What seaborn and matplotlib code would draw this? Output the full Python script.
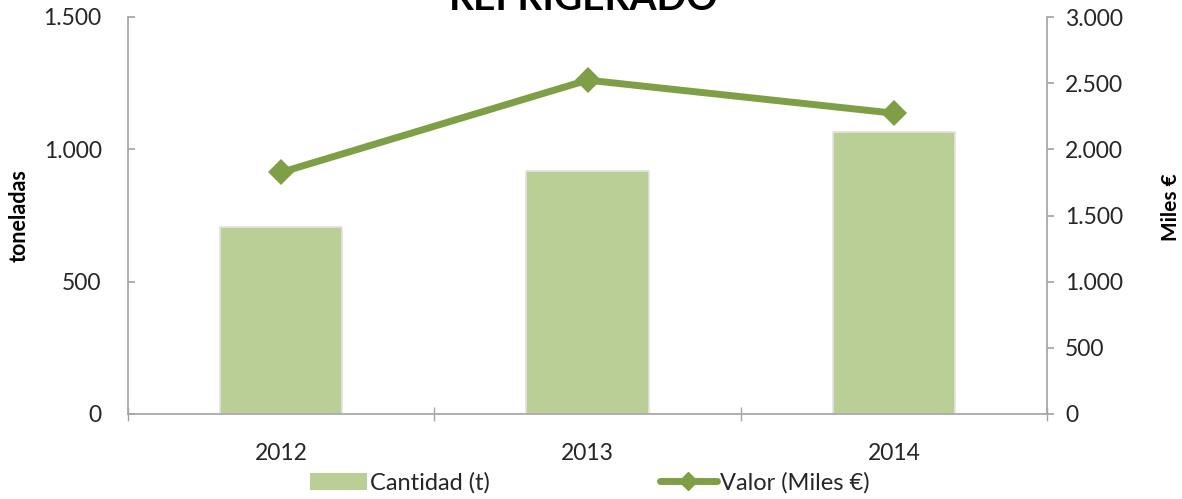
import matplotlib
matplotlib.use("Agg")
import matplotlib.pyplot as plt
import seaborn as sns
import pandas as pd
from matplotlib.ticker import FuncFormatter, FixedLocator
from matplotlib.lines import Line2D
from matplotlib.patches import Patch

years = ["2012", "2013", "2014"]
cantidad = [708, 917, 1064]
valor = [1826, 2523, 2273]

title = "REFRIGERADO"
bar_label = "Cantidad (t)"
line_label = "Valor (Miles €)"
left_label = "toneladas"
right_label = "Miles €"

bar_color = "#B9CF95"
line_color = "#7E9F45"
text_color = "#262626"
axis_color = "#A6A6A6"

sns.set_theme(style="white")
plt.rcParams["font.family"] = ["Lato", "DejaVu Sans"]

df = pd.DataFrame({"year": years, "cantidad": cantidad, "valor": valor})

fig = plt.figure(figsize=(11.82, 4.99), dpi=100)
ax = fig.add_axes([128 / 1182, (499 - 414) / 499, (1047 - 128) / 1182, (414 - 17) / 499])

sns.barplot(data=df, x="year", y="cantidad", color=bar_color, width=0.4,
            saturation=1, ax=ax, edgecolor="#E3E3E3", linewidth=1.2)
ax.set_xlim(-0.5, 2.5)
ax.set_ylim(0, 1500)
ax.set_yticks([0, 500, 1000, 1500])

fmt = FuncFormatter(lambda v, p: f"{int(v):,}".replace(",", "."))
ax.yaxis.set_major_formatter(fmt)

ax2 = ax.twinx()
sns.lineplot(data=df, x="year", y="valor", color=line_color, linewidth=5,
             marker="D", markersize=13, markeredgewidth=0, ax=ax2, sort=False)
ax2.set_ylim(0, 3000)
ax2.set_yticks(range(0, 3001, 500))
ax2.yaxis.set_major_formatter(fmt)
ax2.set_xlim(-0.5, 2.5)

for a in (ax, ax2):
    for s in a.spines.values():
        s.set_visible(False)

ax.spines["left"].set_visible(True)
ax.spines["left"].set_color(axis_color)
ax.spines["bottom"].set_visible(True)
ax.spines["bottom"].set_color(axis_color)
ax2.spines["right"].set_visible(True)
ax2.spines["right"].set_color(axis_color)

ax.set_xlabel("")
ax.set_ylabel(left_label, fontsize=15.5, fontweight="bold", color="black")
ax2.set_ylabel(right_label, fontsize=15, fontweight="bold", color="black")
ax.yaxis.set_label_coords(-0.1066, 0.50)
ax2.yaxis.set_label_coords(1.124, 0.52)

ax.tick_params(axis="y", which="major", direction="in", length=5, color=axis_color,
               labelsize=16.5, labelcolor=text_color, pad=19, left=True)
ax2.tick_params(axis="y", which="major", direction="out", length=5, color=axis_color,
                labelsize=16.5, labelcolor=text_color, pad=8, right=True)
ax.tick_params(axis="x", which="major", length=0, labelsize=16.5, labelcolor=text_color, pad=21)
ax.xaxis.set_minor_locator(FixedLocator([-0.5, 0.5, 1.5, 2.5]))
ax.tick_params(axis="x", which="minor", direction="inout", length=10, color=axis_color, bottom=True)

fig.text(584 / 1182, 1 - 10 / 499, title, ha="center", va="baseline",
         fontsize=28, fontweight="bold", color="black")

handles = [Patch(facecolor=bar_color, edgecolor="none"),
           Line2D([0], [0], color=line_color, linewidth=5, marker="D", markersize=9)]
leg = fig.legend(handles, [bar_label, line_label], loc="center", ncol=2,
                 bbox_to_anchor=(590 / 1182, 1 - 483 / 499), frameon=False,
                 fontsize=17, handlelength=2.4, handletextpad=0.15,
                 columnspacing=7.2, labelcolor=text_color)

fig.savefig("out.png", dpi=100)
